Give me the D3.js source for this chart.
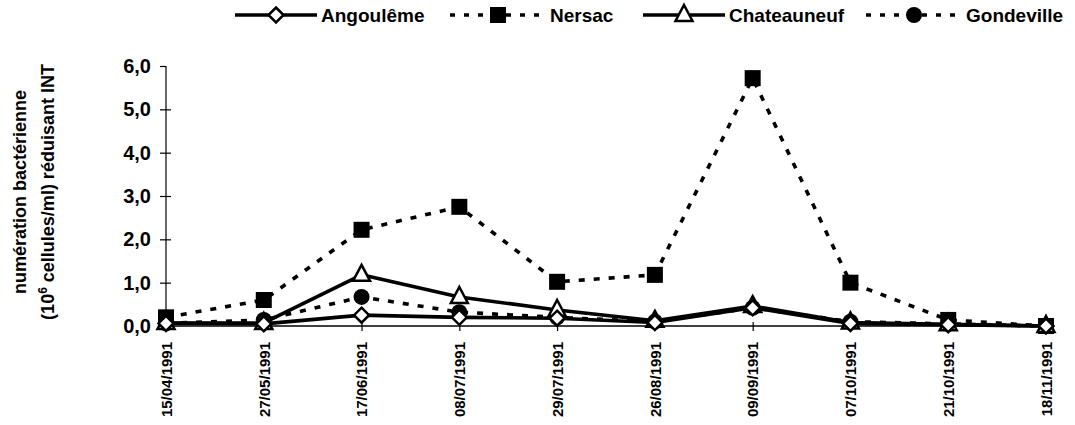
<!DOCTYPE html>
<html><head><meta charset="utf-8">
<script src="https://cdn.jsdelivr.net/npm/d3@7"></script>
<style>body{margin:0;background:#fff}svg{display:block;font-family:"Liberation Sans",Arial,sans-serif;font-weight:bold}</style>
</head><body><svg id="c" width="1075" height="425"></svg>
<script>
const dates = ["15/04/1991","27/05/1991","17/06/1991","08/07/1991","29/07/1991","26/08/1991","09/09/1991","07/10/1991","21/10/1991","18/11/1991"];
const angouleme = [0.06,0.05,0.25,0.2,0.18,0.08,0.42,0.06,0.03,0.0];
const nersac = [0.2,0.6,2.22,2.75,1.02,1.18,5.72,1.0,0.14,0.0];
const chateauneuf = [0.07,0.07,1.18,0.67,0.37,0.12,0.46,0.08,0.04,0.0];
const gondeville = [0.06,0.14,0.67,0.32,0.2,0.1,0.42,0.1,0.05,0.0];
const yTicks = [0,1,2,3,4,5,6];

const series = [
  {name:"Angoulême", values:angouleme, dash:null, marker:"diamond", fill:"#fff"},
  {name:"Nersac", values:nersac, dash:"6,9", marker:"square", fill:"#000"},
  {name:"Chateauneuf", values:chateauneuf, dash:null, marker:"triangle", fill:"#fff"},
  {name:"Gondeville", values:gondeville, dash:"6,9", marker:"circle", fill:"#000"}
];

const FONT = "Liberation Sans, Arial, sans-serif";
const svg = d3.select("#c");
const x = d3.scalePoint().domain(dates).range([166,1046]);
const y = d3.scaleLinear().domain([0,6]).range([326,66]);

// y axis
const ya = svg.append("g").attr("transform","translate(166,0)")
  .call(d3.axisLeft(y).tickValues(yTicks).tickFormat(d=>d3.format(".1f")(d).replace(".",",")).tickSize(5).tickPadding(10));
ya.select(".domain").attr("stroke","#000").attr("stroke-width",1.2).attr("d","M0,66V326");
ya.selectAll(".tick line").attr("x1",-6).attr("x2",d=>d===6?0:5).attr("stroke-width",1.2);
ya.selectAll(".tick text").attr("font-size",20).attr("font-weight","bold").attr("fill","#000").attr("font-family",FONT);

// x axis
const xa = svg.append("g").attr("transform","translate(0,326)")
  .call(d3.axisBottom(x).tickSize(4).tickPadding(6));
xa.select(".domain").attr("stroke","#000").attr("stroke-width",1.5).attr("d","M166,0H1050");
xa.selectAll(".tick line").attr("y1",-4).attr("y2",5).attr("stroke-width",1.2);
xa.selectAll(".tick text").attr("font-size",15).attr("font-weight","bold").attr("fill","#000")
  .attr("font-family",FONT)
  .attr("transform","rotate(-90)").attr("text-anchor","end").attr("x",-16).attr("y",0).attr("dy","0.35em");

// y title
const yt = svg.append("text").attr("transform","translate(26,192) rotate(-90)").attr("text-anchor","middle")
  .attr("font-size",18).attr("font-weight","bold").attr("font-family",FONT);
yt.append("tspan").attr("x",0).attr("y",0).text("numération bactérienne");
const t2 = yt.append("tspan").attr("x",0).attr("y",28);
t2.append("tspan").text("(10");
t2.append("tspan").attr("font-size",12).attr("dy",-7).text("6");
t2.append("tspan").attr("dy",7).text(" cellules/ml) réduisant INT");

function marker(g, type, fill, cx, cy){
  if(type==="square") g.append("rect").attr("x",cx-8).attr("y",cy-8).attr("width",16).attr("height",16).attr("fill","#000");
  else if(type==="circle") g.append("circle").attr("cx",cx).attr("cy",cy).attr("r",8).attr("fill","#000");
  else if(type==="diamond") g.append("path").attr("d",`M${cx},${cy-7.5}L${cx+7.5},${cy}L${cx},${cy+7.5}L${cx-7.5},${cy}Z`).attr("fill",fill).attr("stroke","#000").attr("stroke-width",2.5);
  else if(type==="triangle") g.append("path").attr("d",`M${cx},${cy-10}L${cx+8.5},${cy+6}L${cx-8.5},${cy+6}Z`).attr("fill",fill).attr("stroke","#000").attr("stroke-width",2.5);
}

const line = d3.line().x((d,i)=>x(dates[i])).y(d=>y(d));
const order = [series[1],series[3],series[2],series[0]];
order.forEach(s=>{
  svg.append("path").attr("d",line(s.values)).attr("fill","none").attr("stroke","#000")
    .attr("stroke-width",3.6).attr("stroke-dasharray",s.dash).attr("stroke-linejoin","round");
});
order.forEach(s=>{
  const g = svg.append("g");
  s.values.forEach((v,i)=>marker(g,s.marker,s.fill,x(dates[i]),y(v)));
});

// legend
const legX = [235,450,643,866];
series.forEach((s,i)=>{
  const g = svg.append("g");
  const x0 = legX[i], w = s.dash?96:82, ly = 15;
  g.append("line").attr("x1",x0).attr("x2",x0+w).attr("y1",ly).attr("y2",ly).attr("stroke","#000")
    .attr("stroke-width",3.6).attr("stroke-dasharray",s.dash?"5,9":null);
  marker(g,s.marker,s.fill,x0+w/2,ly);
  g.append("text").attr("x",x0+w+4).attr("y",ly+7).attr("font-size",19).attr("font-weight","bold")
    .attr("font-family",FONT).text(s.name);
});
</script></body></html>
